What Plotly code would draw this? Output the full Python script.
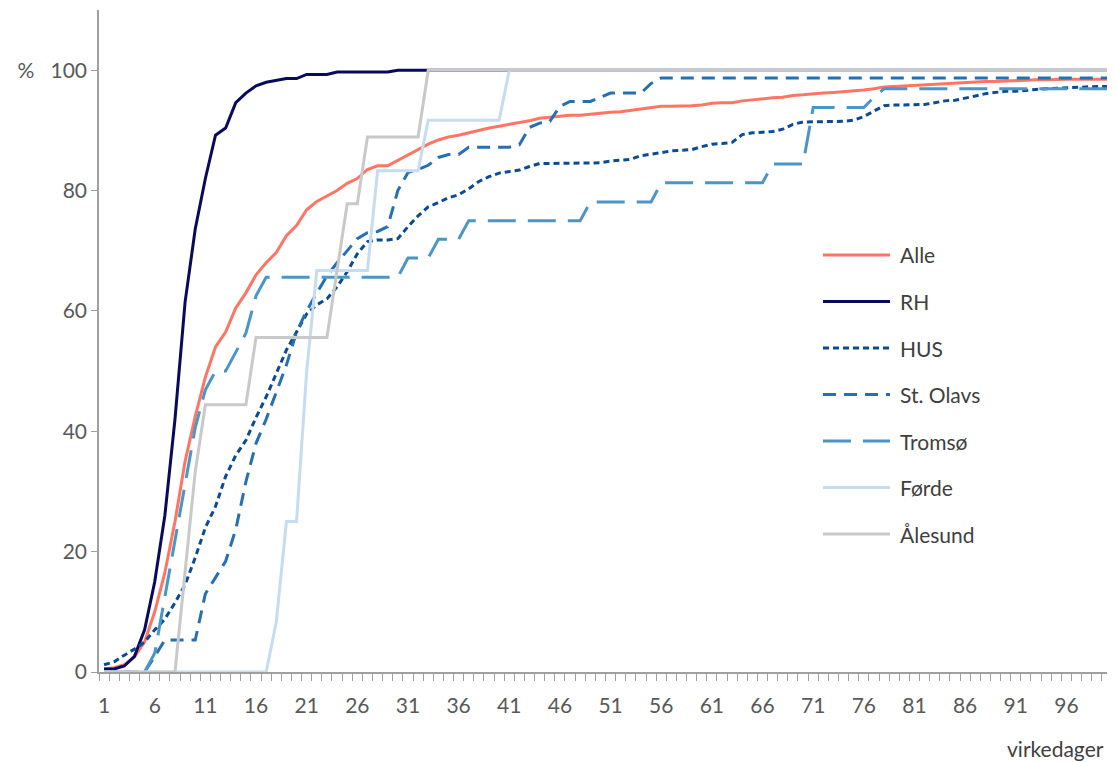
import plotly.graph_objects as go

days = list(range(1, 101))

alle = [0.5, 0.7, 1.2, 2.5, 5, 10, 16.5, 25, 35, 42.5,
        49, 54, 56.5, 60.5, 63, 66, 68, 69.7, 72.5, 74.2,
        76.8, 78.2, 79.1, 80, 81.2, 82, 83.5, 84.1, 84.1, 85,
        86, 86.8, 87.7, 88.4, 88.9, 89.2, 89.6, 90.1, 90.4, 90.7,
        91, 91.2, 91.6, 92, 92.2, 92.4, 92.5, 92.5, 92.7, 92.8,
        93, 93.1, 93.3, 93.5, 93.8, 94, 94, 94, 94.1, 94.2,
        94.5, 94.6, 94.6, 94.9, 95.1, 95.2, 95.4, 95.5, 95.8, 95.9,
        96.1, 96.2, 96.3, 96.4, 96.5, 96.7, 96.9, 97.2, 97.3, 97.4,
        97.5, 97.6, 97.7, 97.7, 97.8, 97.9, 98, 98.1, 98.1, 98.2,
        98.3, 98.3, 98.4, 98.4, 98.5, 98.5, 98.5, 98.5, 98.5, 98.5]

rh = ([0.5, 0.5, 1, 2.6, 7, 15, 26, 42, 61.5, 73.6,
       82, 89.2, 90.4, 94.6, 96.2, 97.4, 98, 98.3, 98.6, 98.6,
       99.3, 99.3, 99.3, 99.7, 99.7, 99.7, 99.7, 99.7, 99.7, 100]
      + [100] * 70)

hus = [1.2, 1.7, 2.8, 3.8, 5, 7, 8.8, 11.5, 14.5, 19,
       24, 27.5, 32.5, 36, 38.5, 42.3, 45.7, 49.5, 53.5, 56.5,
       59.5, 61, 62, 64, 66.5, 69.5, 71.5, 71.8, 71.8, 72,
       74, 75.8, 77.3, 78, 78.8, 79.3, 80.3, 81.5, 82.3, 82.9,
       83.2, 83.4, 84, 84.5, 84.5, 84.5, 84.5, 84.5, 84.5, 84.6,
       84.9, 85.1, 85.2, 85.8, 86, 86.3, 86.6, 86.7, 86.8, 87.3,
       87.7, 87.8, 88, 89.3, 89.6, 89.7, 89.8, 90.2, 91, 91.4,
       91.4, 91.4, 91.4, 91.5, 91.7, 92.3, 93.2, 94.1, 94.2, 94.2,
       94.3, 94.3, 94.6, 94.9, 95, 95.3, 95.7, 96.1, 96.3, 96.5,
       96.5, 96.7, 96.8, 96.9, 97, 97.1, 97.2, 97.3, 97.3, 97.3]

st_olavs = ([0, 0, 0, 0, 0, 2.6, 5.3, 5.3, 5.3, 5.3,
             13, 15.8, 18.4, 23.7, 31.6, 38, 42, 46.5, 51, 56.5,
             60, 63, 65.8, 68, 70, 72, 73, 73.2, 74, 80,
             83, 83.5, 84.2, 85.5, 86, 86, 87.2, 87.2, 87.2, 87.2,
             87.2, 87.6, 90.5, 91.2, 91.5, 94, 94.8, 94.8, 94.8, 95.5,
             96.2, 96.2, 96.2, 96.2, 97.8]
            + [98.7] * 45)

tromso = ([0, 0, 0, 0, 0, 3.1, 12.5, 21.9, 31.3, 40.6,
           46.9, 50, 50, 53.1, 56.3, 62.5]
          + [65.6] * 14
          + [68.8] * 3
          + [71.9] * 3
          + [75.0] * 12
          + [78.1] * 7
          + [81.3] * 11
          + [84.4] * 4
          + [93.8] * 6
          + [95.5]
          + [96.9] * 23)

forde = ([0] * 17 + [8.3, 25, 25, 50] + [66.7] * 6 + [83.3] * 5
         + [91.7] * 8 + [100] * 60)

alesund = ([0] * 8 + [16.7, 33.3] + [44.4] * 5 + [55.6] * 8
           + [66.7, 77.8, 77.8] + [88.9] * 6 + [100] * 68)

names = ["Alle", "RH", "HUS", "St. Olavs", "Tromsø", "Førde", "Ålesund"]
series = [alle, rh, hus, st_olavs, tromso, forde, alesund]
colors = ["#ff7563", "#0a0a5c", "#0b4b96", "#2470b3", "#4a96c8", "#c6dcf0", "#c9c9c9"]
dashes = ["solid", "solid", "6px,4px", "13px,8px", "28px,12px", "solid", "solid"]

y_ticks = [0, 20, 40, 60, 80, 100]
y_ticktext = ["0", "20", "40", "60", "80", "%\u00a0\u00a0\u00a0100"]
x_ticks = list(range(1, 101, 5))

fig = go.Figure()
for n, s, c, d in zip(names, series, colors, dashes):
    fig.add_trace(go.Scatter(x=days, y=s, mode="lines", name=n,
                             line=dict(color=c, width=3, dash=d),
                             showlegend=False))

FONT = "Lato, Carlito, Calibri, Open Sans, sans-serif"

# page is offset by an 8px body margin; figure is sized to fit the window
fig.update_layout(
    width=1107, height=754,
    margin=dict(l=91, r=3, t=2, b=90),
    plot_bgcolor="white", paper_bgcolor="white",
    font=dict(family=FONT, size=21, color="#595959"),
    xaxis=dict(range=[0.5, 100.5], tickmode="array", tickvals=x_ticks,
               ticktext=[str(v) for v in x_ticks], ticks="", showgrid=False,
               zeroline=False, showline=True, linecolor="#a0a0a0", linewidth=1.5,
               ticklabelstandoff=14,
               minor=dict(tickmode="array", tickvals=[k + 0.5 for k in range(0, 101)],
                          ticks="outside", ticklen=7, tickcolor="#a0a0a0", tickwidth=1.2,
                          showgrid=False)),
    yaxis=dict(range=[0, 110], tickmode="array", tickvals=y_ticks, ticktext=y_ticktext,
               ticks="outside", ticklen=6, tickcolor="#a0a0a0", showgrid=False,
               zeroline=False, showline=True, linecolor="#a0a0a0", linewidth=1.5),
)

# custom legend (positions in page pixels -> paper coords)
legend_rows_px = [255, 301.5, 348, 394.5, 441, 487.5, 534]
def px_x(p):
    return (p - 99) / 1013.0
def px_y(p):
    return (672 - p) / 662.0
for n, c, d, ypx in zip(names, colors, dashes, legend_rows_px):
    fig.add_shape(type="line", xref="paper", yref="paper",
                  x0=px_x(823), x1=px_x(890), y0=px_y(ypx), y1=px_y(ypx),
                  line=dict(color=c, width=3, dash=d))
    fig.add_annotation(xref="paper", yref="paper", x=px_x(898), y=px_y(ypx),
                       text=n, showarrow=False, xanchor="left", yanchor="middle",
                       font=dict(family=FONT, size=21, color="#404040"))

fig.add_annotation(xref="paper", yref="paper", x=px_x(1106), y=px_y(748),
                   text="virkedager", showarrow=False, xanchor="right", yanchor="middle",
                   font=dict(family=FONT, size=21, color="#404040"))

fig.write_html("out.html")
